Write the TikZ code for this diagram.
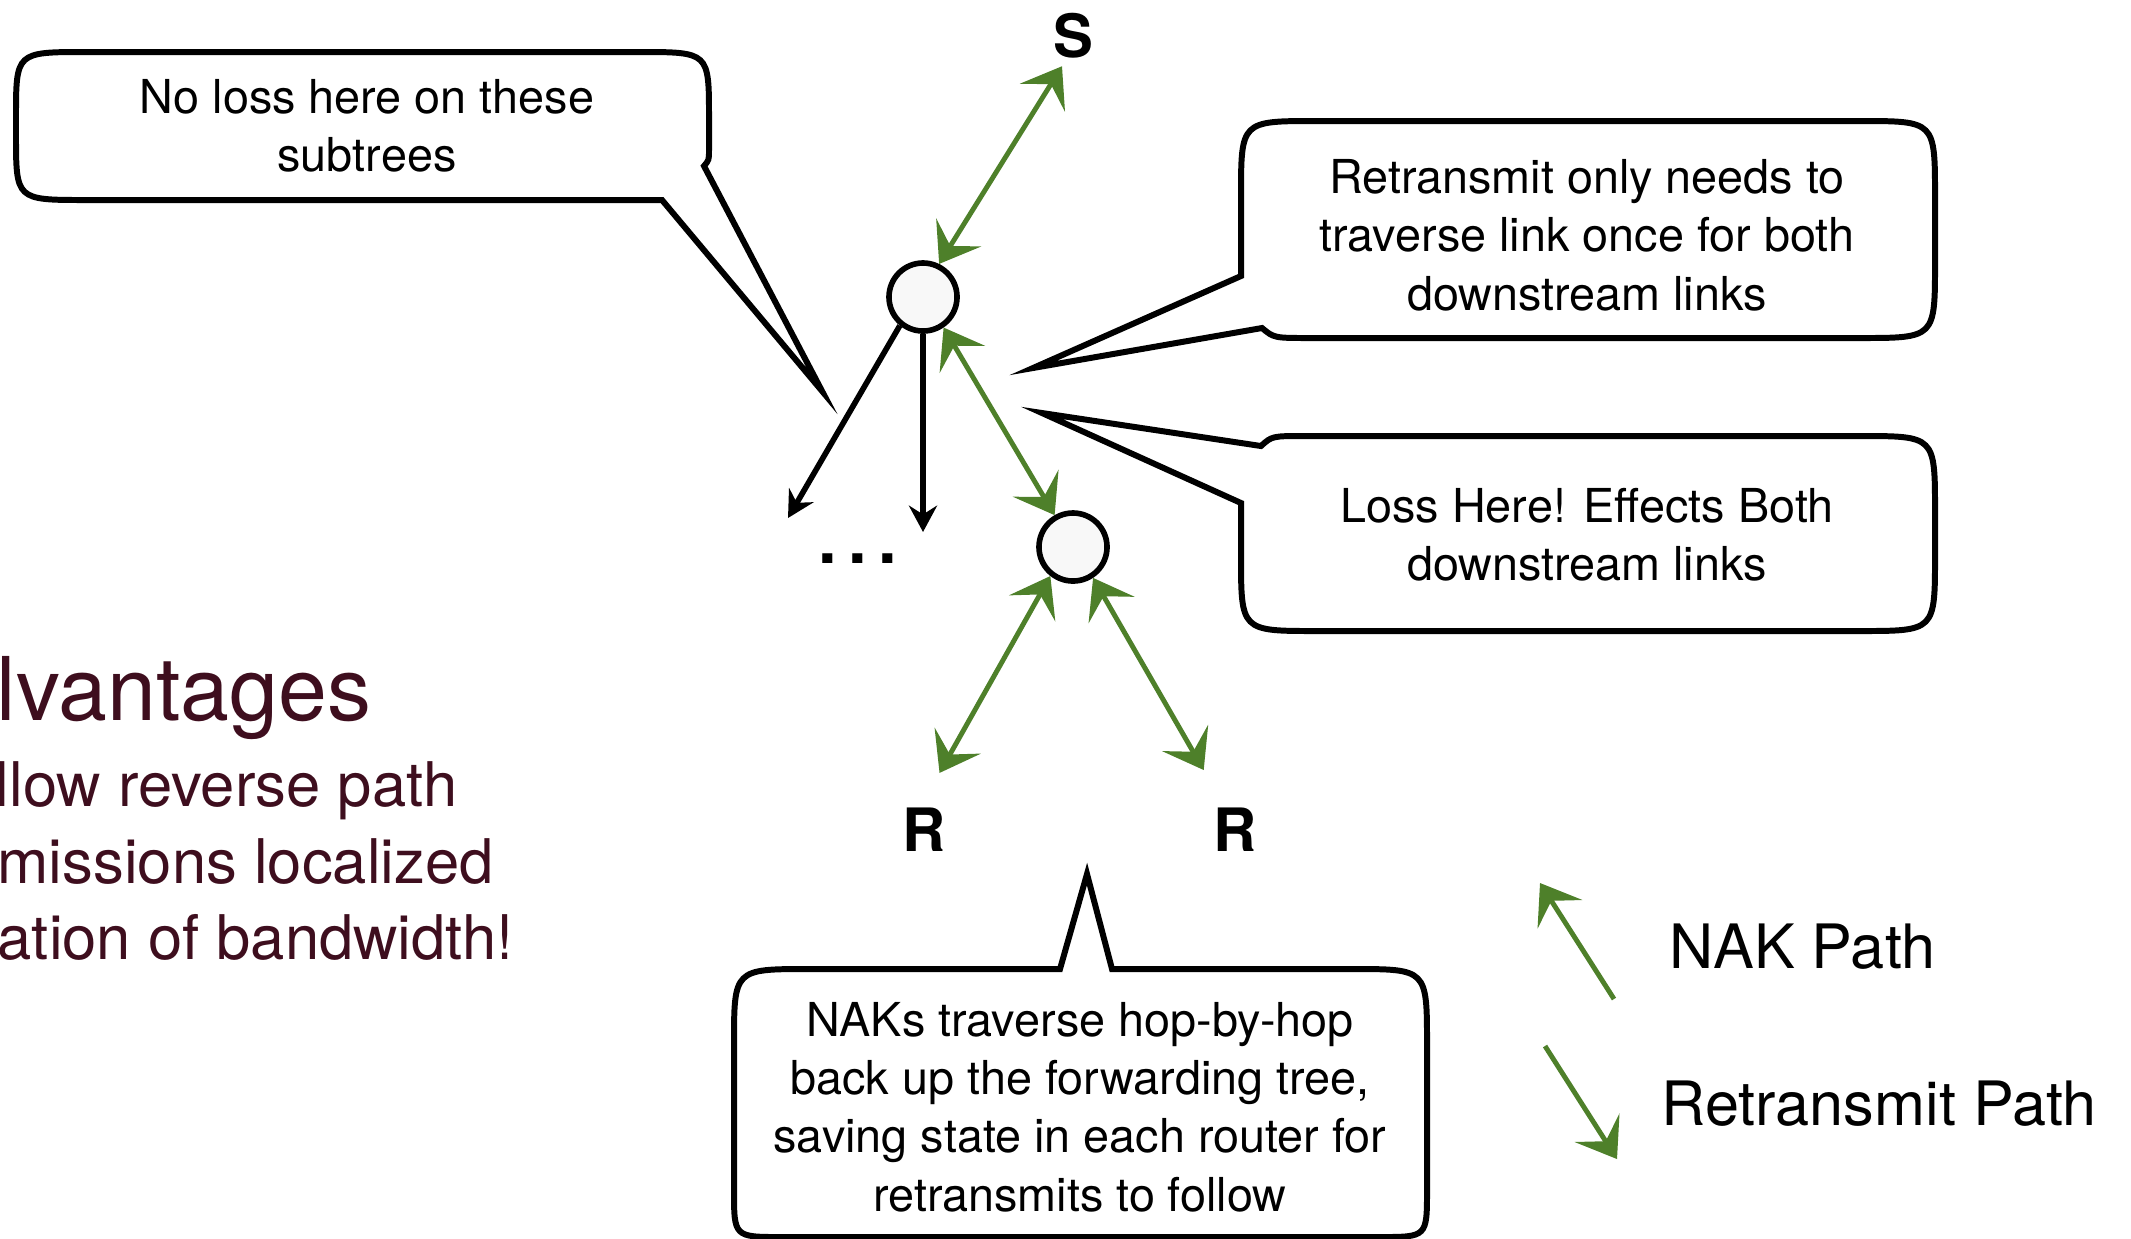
\documentclass[tikz,border=0pt]{standalone}
\usepackage{fontspec}
\setmainfont{TeX Gyre Heros}
\usetikzlibrary{arrows.meta}
\definecolor{grn}{RGB}{78,128,42}
\definecolor{titlecol}{RGB}{62,14,30}
\definecolor{routerfill}{RGB}{248,248,248}
\begin{document}
\begin{tikzpicture}[x=0.01cm,y=-0.01cm,
  callout/.style={draw=black,line width=1.7pt,fill=white,line join=miter,miter limit=25},
  ctext/.style={align=center,inner sep=0pt,font=\fontsize{13.3}{16.6}\selectfont},
  router/.style={circle,draw=black,line width=1.6pt,fill=routerfill,minimum size=0.68cm,inner sep=0pt},
  endlbl/.style={inner sep=2pt,font=\bfseries\fontsize{17}{17}\selectfont},
  gtip/.tip={Stealth[length=10.5pt,width=15pt,inset=4.5pt]},
  nak/.style={draw=grn,line width=1.4pt,{gtip}-{gtip}},
  nakone/.style={draw=grn,line width=1.4pt,-{gtip}},
  fwd/.style={draw=black,line width=1.6pt,-{Stealth[length=7.5pt,width=8pt,inset=2.5pt]}},
  side/.style={anchor=base west,inner sep=0pt,text=titlecol},
  legend/.style={anchor=base west,inner sep=0pt,font=\fontsize{17.4}{20}\selectfont}
]
\useasboundingbox (0,0) rectangle (2131,1238);

% left slide text (cut by the page edge)
\node[side,font=\fontsize{25}{30}\selectfont] (title) at (-4,720) {lvantages};
\node[side,font=\fontsize{17.5}{22}\selectfont] (b1) at (-5,806) {llow reverse path};
\node[side,font=\fontsize{17.5}{22}\selectfont] (b2) at (-3,883) {missions localized};
\node[side,font=\fontsize{17.5}{22}\selectfont] (b3) at (-3,959) {ation of bandwidth!};

% tree
\node[endlbl] (S) at (1073,36) {S};
\node[router] (c1) at (923,297) {};
\node[router] (c2) at (1073,547) {};
\node[endlbl] (Rl) at (924,830) {R};
\node[endlbl] (Rr) at (1235,830) {R};
\coordinate (d1) at (788,518);
\coordinate (d2) at (923,532);
\node[anchor=base,inner sep=0pt,font=\bfseries\fontsize{19}{19}\selectfont] (dots) at (858,563) {.\hspace{3.2pt}.\hspace{3.2pt}.};

\draw[fwd] (c1.231) -- (d1);
\draw[fwd] (c1.south) -- (d2);

\draw[nak] (S.250) -- (c1.64);
\draw[nak] (c1.-56) -- (c2.120);
\draw[nak,shorten >=9pt] (c2.232) -- (Rl.north);
\draw[nak,shorten >=10pt] (c2.-57) -- (Rr.115);

% callout: top left
\draw[callout] (662,200) -- (86,200) .. controls (16,200) .. (16,135) -- (16,117)
  .. controls (16,52) .. (86,52) -- (639,52) .. controls (709,52) .. (709,117)
  -- (709,150) .. controls (709,160) .. (704,166) -- (822,391) -- cycle;
\node[ctext] (t1) at (367,126) {No loss here on these\\subtrees};

% callout: top right
\draw[callout] (1241,276) -- (1033,368) -- (1262,328) .. controls (1274,338) .. (1310,338)
  -- (1860,338) .. controls (1935,338) .. (1935,263) -- (1935,196)
  .. controls (1935,121) .. (1860,121) -- (1316,121) .. controls (1241,121) .. (1241,196) -- cycle;
\node[ctext] (t2) at (1587,235) {Retransmit only needs to\\traverse link once for both\\downstream links};

% callout: bottom right
\draw[callout] (1241,503) -- (1042,413) -- (1261,446) .. controls (1272,436) .. (1305,436)
  -- (1860,436) .. controls (1935,436) .. (1935,511) -- (1935,556)
  .. controls (1935,631) .. (1860,631) -- (1316,631) .. controls (1241,631) .. (1241,556) -- cycle;
\node[ctext] (t3) at (1587,535) {Loss Here! Effects Both\\downstream links};

% callout: bottom
\draw[callout] (1060,969) -- (1087,874) -- (1112,969) -- (1352,969)
  .. controls (1427,969) .. (1427,1044) -- (1427,1190) .. controls (1427,1237) .. (1380,1237)
  -- (781,1237) .. controls (734,1237) .. (734,1190) -- (734,1044)
  .. controls (734,969) .. (809,969) -- cycle;
\node[ctext] (t4) at (1080,1107) {NAKs traverse hop-by-hop\\back up the forwarding tree,\\saving state in each router for\\retransmits to follow};

% legend
\coordinate (lnA) at (1614,999);
\coordinate (lnB) at (1540,883);
\coordinate (lrA) at (1545,1046);
\coordinate (lrB) at (1617,1159);
\draw[nakone] (lnA) -- (lnB);
\draw[nakone] (lrA) -- (lrB);
\node[legend] (lnak) at (1669,968) {NAK Path};
\node[legend] (lret) at (1661,1125) {Retransmit Path};
\end{tikzpicture}
\end{document}
